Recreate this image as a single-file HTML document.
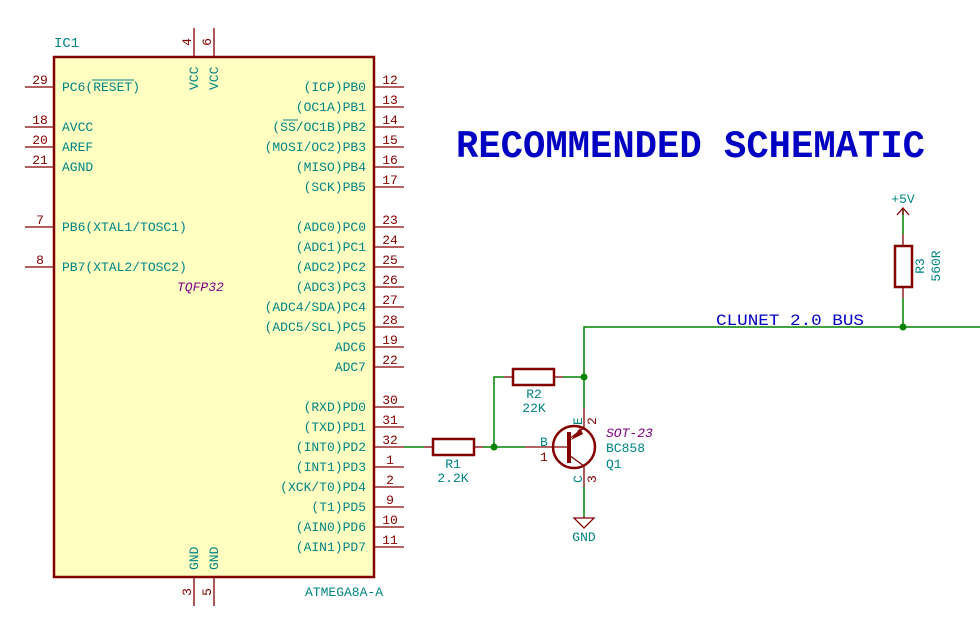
<!DOCTYPE html>
<html><head><meta charset="utf-8"><style>
html,body{margin:0;padding:0;background:#fff;}
svg{display:block;}
text{font-family:"Liberation Mono",monospace;font-size:13px;}
.t{fill:#008484;}
.n{fill:#840000;}
.p{fill:#840084;font-style:italic;}
</style></head><body>
<svg width="980" height="637" viewBox="0 0 980 637" xmlns="http://www.w3.org/2000/svg">
<rect x="54" y="57" width="320" height="520" fill="#ffffc2" stroke="#840000" stroke-width="2.5"/>
<g stroke="#840000" stroke-width="1.3">
<line x1="25" y1="87" x2="54" y2="87"/>
<line x1="25" y1="127" x2="54" y2="127"/>
<line x1="25" y1="147" x2="54" y2="147"/>
<line x1="25" y1="167" x2="54" y2="167"/>
<line x1="25" y1="227" x2="54" y2="227"/>
<line x1="25" y1="267" x2="54" y2="267"/>
<line x1="194" y1="28" x2="194" y2="57"/>
<line x1="214" y1="28" x2="214" y2="57"/>
<line x1="194" y1="577" x2="194" y2="606"/>
<line x1="214" y1="577" x2="214" y2="606"/>
<line x1="374" y1="87" x2="404" y2="87"/><line x1="374" y1="107" x2="404" y2="107"/>
<line x1="374" y1="127" x2="404" y2="127"/><line x1="374" y1="147" x2="404" y2="147"/>
<line x1="374" y1="167" x2="404" y2="167"/><line x1="374" y1="187" x2="404" y2="187"/>
<line x1="374" y1="227" x2="404" y2="227"/><line x1="374" y1="247" x2="404" y2="247"/>
<line x1="374" y1="267" x2="404" y2="267"/><line x1="374" y1="287" x2="404" y2="287"/>
<line x1="374" y1="307" x2="404" y2="307"/><line x1="374" y1="327" x2="404" y2="327"/>
<line x1="374" y1="347" x2="404" y2="347"/><line x1="374" y1="367" x2="404" y2="367"/>
<line x1="374" y1="407" x2="404" y2="407"/><line x1="374" y1="427" x2="404" y2="427"/>
<line x1="374" y1="447" x2="404" y2="447"/><line x1="374" y1="467" x2="404" y2="467"/>
<line x1="374" y1="487" x2="404" y2="487"/><line x1="374" y1="507" x2="404" y2="507"/>
<line x1="374" y1="527" x2="404" y2="527"/><line x1="374" y1="547" x2="404" y2="547"/>
</g>
<g class="n" text-anchor="middle">
<text x="40" y="84">29</text><text x="40" y="124">18</text><text x="40" y="144">20</text>
<text x="40" y="164">21</text><text x="40" y="224">7</text><text x="40" y="264">8</text>
</g>
<g class="n" text-anchor="middle">
<text x="390" y="84">12</text><text x="390" y="104">13</text><text x="390" y="124">14</text>
<text x="390" y="144">15</text><text x="390" y="164">16</text><text x="390" y="184">17</text>
<text x="390" y="224">23</text><text x="390" y="244">24</text><text x="390" y="264">25</text>
<text x="390" y="284">26</text><text x="390" y="304">27</text><text x="390" y="324">28</text>
<text x="390" y="344">19</text><text x="390" y="364">22</text>
<text x="390" y="404">30</text><text x="390" y="424">31</text><text x="390" y="444">32</text>
<text x="390" y="464">1</text><text x="390" y="484">2</text><text x="390" y="504">9</text>
<text x="390" y="524">10</text><text x="390" y="544">11</text>
</g>
<g class="n" text-anchor="middle">
<text transform="translate(191,42) rotate(-90)">4</text>
<text transform="translate(211,42) rotate(-90)">6</text>
<text transform="translate(191,592) rotate(-90)">3</text>
<text transform="translate(211,592) rotate(-90)">5</text>
</g>
<g class="t">
<text x="62" y="91">PC6(RESET)</text>
<line x1="92" y1="80" x2="134" y2="80" stroke="#008484" stroke-width="1"/>
<text x="62" y="131">AVCC</text><text x="62" y="151">AREF</text><text x="62" y="171">AGND</text>
<text x="62" y="231">PB6(XTAL1/TOSC1)</text><text x="62" y="271">PB7(XTAL2/TOSC2)</text>
<text x="54" y="47" style="font-size:14px">IC1</text>
<text x="305" y="596">ATMEGA8A-A</text>
<text transform="translate(198,90) rotate(-90)">VCC</text>
<text transform="translate(218,90) rotate(-90)">VCC</text>
<text transform="translate(198,570) rotate(-90)">GND</text>
<text transform="translate(218,570) rotate(-90)">GND</text>
</g>
<g class="t" text-anchor="end">
<text x="366" y="91">(ICP)PB0</text><text x="366" y="111">(OC1A)PB1</text>
<text x="366" y="131">(SS/OC1B)PB2</text><text x="366" y="151">(MOSI/OC2)PB3</text>
<text x="366" y="171">(MISO)PB4</text><text x="366" y="191">(SCK)PB5</text>
<text x="366" y="231">(ADC0)PC0</text><text x="366" y="251">(ADC1)PC1</text>
<text x="366" y="271">(ADC2)PC2</text><text x="366" y="291">(ADC3)PC3</text>
<text x="366" y="311">(ADC4/SDA)PC4</text><text x="366" y="331">(ADC5/SCL)PC5</text>
<text x="366" y="351">ADC6</text><text x="366" y="371">ADC7</text>
<text x="366" y="411">(RXD)PD0</text><text x="366" y="431">(TXD)PD1</text>
<text x="366" y="451">(INT0)PD2</text><text x="366" y="471">(INT1)PD3</text>
<text x="366" y="491">(XCK/T0)PD4</text><text x="366" y="511">(T1)PD5</text>
<text x="366" y="531">(AIN0)PD6</text><text x="366" y="551">(AIN1)PD7</text>
</g>
<line x1="283" y1="120" x2="298" y2="120" stroke="#008484" stroke-width="1"/>
<text class="p" x="177" y="291">TQFP32</text>

<text x="456" y="157" textLength="469" lengthAdjust="spacingAndGlyphs" style="font-family:'Liberation Mono',monospace;font-weight:bold;font-size:39px;fill:#0000c2">RECOMMENDED SCHEMATIC</text>

<g stroke="#008400" stroke-width="1.5" fill="none">
<line x1="404" y1="447" x2="424" y2="447"/>
<line x1="483" y1="447" x2="525" y2="447"/>
<polyline points="494,447 494,377 504,377"/>
<line x1="563" y1="377" x2="584" y2="377"/>
<polyline points="584,408 584,327 980,327"/>
<line x1="584" y1="487" x2="584" y2="516"/>
<line x1="903" y1="234" x2="903" y2="210"/>
<line x1="903" y1="298" x2="903" y2="327"/>
</g>
<g fill="#008400">
<circle cx="494" cy="447" r="3.5"/><circle cx="584" cy="377" r="3.5"/><circle cx="903" cy="327" r="3.5"/>
</g>
<g stroke="#840000" fill="none">
<rect x="433" y="439" width="41" height="16" stroke-width="2.5"/>
<line x1="424" y1="447" x2="433" y2="447" stroke-width="1.3"/>
<line x1="474" y1="447" x2="483" y2="447" stroke-width="1.3"/>
<rect x="513" y="369" width="41" height="16" stroke-width="2.5"/>
<line x1="504" y1="377" x2="513" y2="377" stroke-width="1.3"/>
<line x1="554" y1="377" x2="563" y2="377" stroke-width="1.3"/>
<rect x="895" y="246" width="17" height="41" stroke-width="2.5"/>
<line x1="903" y1="234" x2="903" y2="246" stroke-width="1.3"/>
<line x1="903" y1="287" x2="903" y2="298" stroke-width="1.3"/>
<line x1="903" y1="208" x2="903" y2="215" stroke-width="1.3"/>
<polyline points="897,215 903,208 909,215" stroke-width="1.3"/>
<circle cx="574" cy="447" r="21" stroke-width="2.5"/>
<line x1="525" y1="447" x2="569" y2="447" stroke-width="1.3"/>
<line x1="569" y1="432" x2="569" y2="463" stroke-width="4"/>
<line x1="569" y1="439" x2="584" y2="428" stroke-width="1.3"/>
<line x1="584" y1="428" x2="584" y2="408" stroke-width="1.3"/>
<line x1="569" y1="455" x2="584" y2="466" stroke-width="1.3"/>
<line x1="584" y1="466" x2="584" y2="487" stroke-width="1.3"/>
<line x1="584" y1="516" x2="584" y2="518" stroke-width="1.3"/>
<polygon points="574,518 594,518 584,528" stroke-width="1.3"/>
</g>
<polygon points="571,440 580,428 583,434" fill="#840000"/>
<g class="t" text-anchor="middle">
<text x="453" y="468">R1</text><text x="453" y="482">2.2K</text>
<text x="534" y="398">R2</text><text x="534" y="412">22K</text>
<text x="584" y="541">GND</text>
<text x="903" y="203">+5V</text>
<text transform="translate(924,266) rotate(-90)">R3</text>
<text transform="translate(940,266) rotate(-90)">560R</text>
</g>
<g class="t">
<text x="540" y="446">B</text>
<text x="606" y="452">BC858</text><text x="606" y="468">Q1</text>
<text transform="translate(582,425) rotate(-90)">E</text>
<text transform="translate(582,483) rotate(-90)">C</text>
</g>
<g class="n">
<text x="540" y="461">1</text>
<text transform="translate(596,425) rotate(-90)">2</text>
<text transform="translate(596,483) rotate(-90)">3</text>
</g>
<text class="p" x="606" y="437">SOT-23</text>
<text x="716" y="325" style="font-size:16px;fill:#0000c2" textLength="148" lengthAdjust="spacingAndGlyphs">CLUNET 2.0 BUS</text>
</svg>
</body></html>
